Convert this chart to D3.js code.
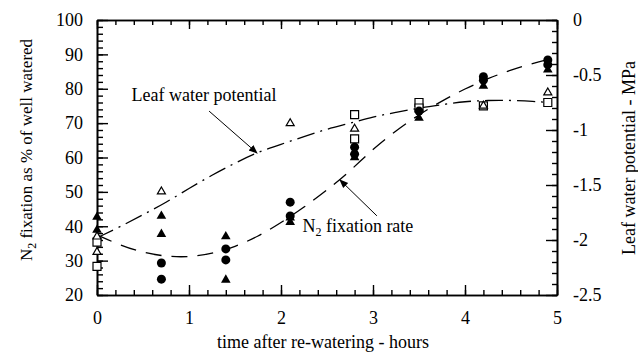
<!DOCTYPE html>
<html>
<head>
<meta charset="utf-8">
<script src="https://cdn.jsdelivr.net/npm/d3@7"></script>
<style>
  body { margin: 0; background: #fff; }
  text { font-family: "Liberation Serif", "Times New Roman", serif; fill: #000; }
</style>
</head>
<body>
<div id="chart"></div>
<script>
// N2 fixation (% of well watered), two replicate sets
const n2Circles = [[0.7, 29.3], [0.7, 24.6], [1.4, 33.4], [1.4, 30.2], [2.1, 47], [2.1, 43],
    [2.8, 63], [2.8, 61], [3.5, 73.5], [4.2, 83.5], [4.2, 82.5], [4.9, 88.4], [4.9, 87]];
const n2Triangles = [[0, 42.7], [0, 38.9], [0.7, 43], [0.7, 37.7], [1.4, 37], [1.4, 24.4],
    [2.1, 42.5], [2.1, 41.2], [2.8, 61.5], [2.8, 60], [3.5, 71.5], [4.2, 80.8], [4.9, 85.5]];

// Leaf water potential (MPa)
const lwpSquares = [[0, -2.02], [0, -2.24], [2.8, -0.86], [2.8, -1.08], [3.5, -0.75], [3.5, -0.80],
    [4.2, -0.78], [4.9, -0.75]];
const lwpTriangles = [[0, -1.97], [0, -2.11], [0.7, -1.56], [2.1, -0.94], [2.8, -0.99],
    [4.2, -0.78], [4.9, -0.66]];

// fitted trend lines
const curveHours = [0, 0.25, 0.5, 0.75, 1, 1.25, 1.5, 1.75, 2, 2.25, 2.5, 2.75, 3, 3.25, 3.5, 3.75, 4, 4.25, 4.5, 4.75, 4.9];
const n2Curve = [37.5, 34.5, 32.3, 31.2, 31, 32, 34, 37, 41, 45.5, 50.5, 56, 62.5, 67.8, 72.5, 76.5, 80, 83, 85.5, 87.5, 88.5];
const lwpCurve = [-1.98, -1.88, -1.77, -1.66, -1.53, -1.41, -1.30, -1.20, -1.13, -1.06, -0.99, -0.94,
    -0.88, -0.84, -0.80, -0.77, -0.74, -0.73, -0.73, -0.74, -0.75];

const xTicks = [0, 1, 2, 3, 4, 5];
const yTicks = [20, 30, 40, 50, 60, 70, 80, 90, 100];
const y2Ticks = [0, -0.5, -1, -1.5, -2, -2.5];

const width = 638, height = 352;
const margin = { top: 20, right: 81, bottom: 57, left: 97 };
const iw = width - margin.left - margin.right;
const ih = height - margin.top - margin.bottom;

const x = d3.scaleLinear().domain([0, 5]).range([0, iw]);
const y = d3.scaleLinear().domain([20, 100]).range([ih, 0]);
const y2 = d3.scaleLinear().domain([-2.5, 0]).range([ih, 0]);

const svg = d3.select("#chart").append("svg")
    .attr("width", width)
    .attr("height", height);

const g = svg.append("g").attr("transform", `translate(${margin.left},${margin.top})`);

// axes: ticks point inward on all four sides
function styleAxis(sel) {
    sel.attr("font-family", null).attr("font-size", null);
    sel.selectAll("path, line").attr("stroke", "#000").attr("stroke-width", 1.4);
    sel.selectAll("text")
        .style("font-family", '"Liberation Serif", "Times New Roman", serif')
        .style("font-size", "18px")
        .attr("fill", "#000");
}

// minor ticks first
g.append("g").call(d3.axisLeft(y).tickValues(d3.range(20, 101, 2)).tickSize(-6).tickFormat("").tickSizeOuter(0)).call(styleAxis);
g.append("g").attr("transform", `translate(${iw},0)`)
    .call(d3.axisRight(y2).tickValues(d3.range(-25, 1).map(d => d / 10)).tickSize(-5).tickFormat("").tickSizeOuter(0)).call(styleAxis);
g.append("g").attr("transform", `translate(0,${ih})`)
    .call(d3.axisBottom(x).tickValues(d3.range(0, 26).map(d => d / 5)).tickSize(-5).tickFormat("").tickSizeOuter(0)).call(styleAxis);
g.append("g")
    .call(d3.axisTop(x).tickValues(d3.range(0, 26).map(d => d / 5)).tickSize(-5).tickFormat("").tickSizeOuter(0)).call(styleAxis);

// major ticks + labels
g.append("g").call(d3.axisLeft(y).tickValues(yTicks).tickSize(-11).tickPadding(14).tickSizeOuter(0)).call(styleAxis);
g.append("g").attr("transform", `translate(${iw},0)`)
    .call(d3.axisRight(y2).tickValues(y2Ticks).tickSize(-11).tickPadding(16).tickFormat(d => String(d)).tickSizeOuter(0))
    .call(styleAxis);
g.append("g").attr("transform", `translate(0,${ih})`)
    .call(d3.axisBottom(x).tickValues(xTicks).tickSize(-10).tickPadding(16).tickFormat(d3.format("d")).tickSizeOuter(0)).call(styleAxis);
g.append("g")
    .call(d3.axisTop(x).tickValues(xTicks).tickSize(-9).tickFormat("").tickSizeOuter(0)).call(styleAxis);

g.selectAll(".domain").attr("stroke-width", 1.6);

// trend lines
const n2Line = d3.line().x((d, i) => x(curveHours[i])).y(d => y(d)).curve(d3.curveBasis);
const lwpLine = d3.line().x((d, i) => x(curveHours[i])).y(d => y2(d)).curve(d3.curveBasis);

g.append("path").datum(n2Curve)
    .attr("d", n2Line)
    .attr("fill", "none").attr("stroke", "#000").attr("stroke-width", 1.3)
    .attr("stroke-dasharray", "16,10");

g.append("path").datum(lwpCurve)
    .attr("d", lwpLine)
    .attr("fill", "none").attr("stroke", "#000").attr("stroke-width", 1.3)
    .attr("stroke-dasharray", "18,6,2,6");

// markers
g.append("g").selectAll("path").data(lwpSquares).join("path")
    .attr("transform", d => `translate(${x(d[0])},${y2(d[1])})`)
    .attr("d", d3.symbol().type(d3.symbolSquare).size(64))
    .attr("fill", "#fff").attr("stroke", "#000").attr("stroke-width", 1.2);

g.append("g").selectAll("path").data(lwpTriangles).join("path")
    .attr("transform", d => `translate(${x(d[0])},${y2(d[1])})`)
    .attr("d", d3.symbol().type(d3.symbolTriangle).size(28))
    .attr("fill", "#fff").attr("stroke", "#000").attr("stroke-width", 1.2);

g.append("g").selectAll("circle").data(n2Circles).join("circle")
    .attr("cx", d => x(d[0]))
    .attr("cy", d => y(d[1]))
    .attr("r", 4.5)
    .attr("fill", "#000");

g.append("g").selectAll("path").data(n2Triangles).join("path")
    .attr("transform", d => `translate(${x(d[0])},${y(d[1])})`)
    .attr("d", d3.symbol().type(d3.symbolTriangle).size(40))
    .attr("fill", "#000");

// annotations with arrows
svg.append("defs").append("marker")
    .attr("id", "arrow")
    .attr("viewBox", "0 0 10 10")
    .attr("refX", 9).attr("refY", 5)
    .attr("markerWidth", 9).attr("markerHeight", 9)
    .attr("orient", "auto-start-reverse")
    .append("path").attr("d", "M0,1 L10,5 L0,9 Z").attr("fill", "#000");

const lwpTip = [x(1.74), y2(-1.21)];
g.append("line")
    .attr("x1", lwpTip[0] - 48).attr("y1", lwpTip[1] - 42)
    .attr("x2", lwpTip[0]).attr("y2", lwpTip[1])
    .attr("stroke", "#000").attr("stroke-width", 1)
    .attr("marker-end", "url(#arrow)");
g.append("text")
    .attr("x", lwpTip[0] - 53).attr("y", lwpTip[1] - 52)
    .attr("text-anchor", "middle")
    .style("font-size", "18px")
    .text("Leaf water potential");

const n2Tip = [x(2.64), y(53.5)];
g.append("line")
    .attr("x1", n2Tip[0] + 37).attr("y1", n2Tip[1] + 36)
    .attr("x2", n2Tip[0]).attr("y2", n2Tip[1])
    .attr("stroke", "#000").attr("stroke-width", 1)
    .attr("marker-end", "url(#arrow)");
const n2Label = g.append("text")
    .attr("x", n2Tip[0] + 18).attr("y", n2Tip[1] + 52)
    .attr("text-anchor", "middle")
    .style("font-size", "18px");
n2Label.append("tspan").text("N");
n2Label.append("tspan").attr("dy", 4).style("font-size", "12px").text("2");
n2Label.append("tspan").attr("dy", -4).text(" fixation rate");

// axis titles
const yTitle = svg.append("text")
    .attr("transform", "translate(32,150) rotate(-90)")
    .attr("text-anchor", "middle")
    .style("font-size", "17px");
yTitle.append("tspan").text("N");
yTitle.append("tspan").attr("dy", 4).style("font-size", "12px").text("2");
yTitle.append("tspan").attr("dy", -4).text(" fixation as % of well watered");

svg.append("text")
    .attr("transform", "translate(635,158) rotate(-90)")
    .attr("text-anchor", "middle")
    .style("font-size", "18px")
    .text("Leaf water potential - MPa");

svg.append("text")
    .attr("x", margin.left + iw / 2 - 4).attr("y", 348)
    .attr("text-anchor", "middle")
    .style("font-size", "18px")
    .text("time after re-watering - hours");
</script>
</body>
</html>
